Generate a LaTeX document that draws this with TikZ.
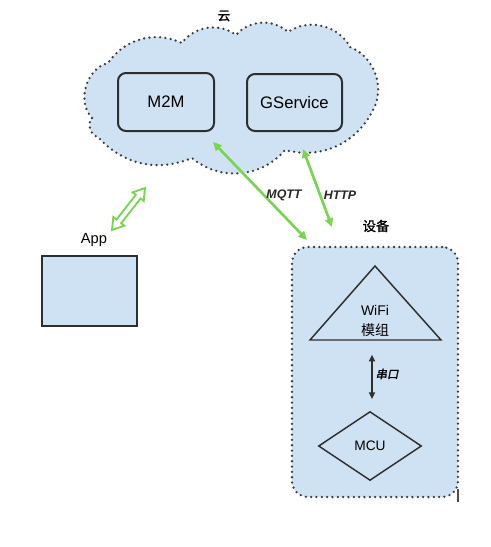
\documentclass[tikz,border=0pt]{standalone}
\usepackage{fontspec}
\setmainfont{Liberation Sans}
\newfontfamily\cjk{Noto Sans CJK SC}
\newfontfamily\cjkb{Noto Sans CJK SC}[FakeBold=1.5]
\newfontfamily\cjkbi{Noto Sans CJK SC}[FakeBold=2,FakeSlant=0.2]
\usetikzlibrary{arrows.meta,shapes.geometric}
\definecolor{fillblue}{HTML}{CFE2F3}
\definecolor{arrowgreen}{RGB}{122,212,82}
\definecolor{edge}{HTML}{2E2E2E}
\definecolor{dotc}{HTML}{3A3A3A}
\tikzset{
  svc/.style={draw=edge, line width=1.5pt, fill=fillblue, rounded corners=6pt, inner sep=0pt,
    font=\fontsize{12.5}{14}\selectfont},
  dotline/.style={draw=dotc, line width=1.9pt, line cap=round, dash pattern=on 0pt off 4pt},
  greenarrow/.style={draw=arrowgreen, line width=2pt, {Triangle[length=6.5pt,width=6pt]}-{Triangle[length=6.5pt,width=6pt]}},
  lbl/.style={font=\fontsize{9.3}{11}\selectfont\bfseries\itshape, text=black!85},
  plain/.style={inner sep=0pt}
}
\begin{document}
\begin{tikzpicture}[x=0.75pt,y=-0.75pt]
\useasboundingbox (0,0) rectangle (491,547);
% cloud
\path[fill=fillblue, dotline]
  (92,118) to[bend left=60] (108,63)
  to[bend left=40] (182,43)
  to[bend left=45] (236,35)
  to[bend left=45] (288,32)
  to[bend left=48] (350,47)
  to[bend left=50] (372,112)
  to[bend left=38] (285,150)
  to[bend left=45] (192,158)
  to[bend left=35] (98,137)
  to[bend left=60] cycle;
\node[plain, font=\cjkb\fontsize{9.5}{11}\selectfont] (cloudlbl) at (224,16) {云};
\node[svc, minimum width=72pt, minimum height=43.5pt] (m2m) at (166,102) {M2M};
\node[svc, minimum width=71.25pt, minimum height=42.75pt] (gs) at (294.5,102.5) {GService};
% app
\node[plain, font=\fontsize{11}{13}\selectfont] (applbl) at (94,240) {App};
\node[draw=edge, line width=1.1pt, fill=fillblue, minimum width=71.25pt, minimum height=52.5pt, inner sep=0pt] (app) at (89.5,291) {};
% hollow double arrow
\draw[arrowgreen, line width=1.4pt, fill=white, line join=miter]
  (145,188) -- (143.70,200.98) -- (140.56,198.50) -- (121.16,223.20) -- (124.30,225.68)
  -- (112,230) -- (113.30,217.02) -- (116.44,219.50) -- (135.84,194.80) -- (132.70,192.32) -- cycle;
% device
\node[plain, font=\cjkb\fontsize{10}{12}\selectfont] (devlbl) at (376,226) {设备};
\node[dotline, fill=fillblue, rounded corners=12pt, minimum width=124.5pt, minimum height=187.5pt, inner sep=0pt] (dev) at (375,372) {};
% wifi triangle
\coordinate (tapex) at (375,266);
\coordinate (tl) at (310,340);
\coordinate (tr) at (441,340);
\coordinate (tbase) at (372,340);
\draw[edge, line width=1.1pt, line join=miter] (tapex) -- (tr) -- (tl) -- cycle;
\node[plain, align=center, font=\fontsize{10.5}{16}\selectfont] (wifi) at (375,321) {WiFi\\[-1pt]{\cjk 模组}};
% mcu
\node[draw=edge, line width=1.1pt, diamond, minimum width=77.25pt, minimum height=51.75pt, inner sep=0pt, font=\fontsize{10.3}{12}\selectfont] (mcu) at (370,446) {MCU};
\coordinate (mtop) at (372,411);
\draw[edge, line width=1.3pt, {Triangle[length=5pt,width=4.5pt]}-{Triangle[length=5pt,width=4.5pt]}, shorten <=11pt, shorten >=9pt] (tbase) -- (mtop);
\node[plain, font=\cjkbi\fontsize{8.5}{10}\selectfont] (serial) at (387,374) {串口};
% green arrows
\coordinate (mqA) at (213,142);
\coordinate (mqB) at (307,240);
\coordinate (htA) at (303,149);
\coordinate (htB) at (332,227);
\draw[greenarrow] (mqA) -- (mqB);
\draw[greenarrow] (htA) -- (htB);
\node[lbl] (mqtt) at (284,195) {MQTT};
\node[lbl] (http) at (340,195) {HTTP};
% small mark
\coordinate (mk1) at (458,489);
\coordinate (mk2) at (458,502);
\draw[black!70, line width=0.8pt] (mk1) -- (mk2);
\end{tikzpicture}
\end{document}
